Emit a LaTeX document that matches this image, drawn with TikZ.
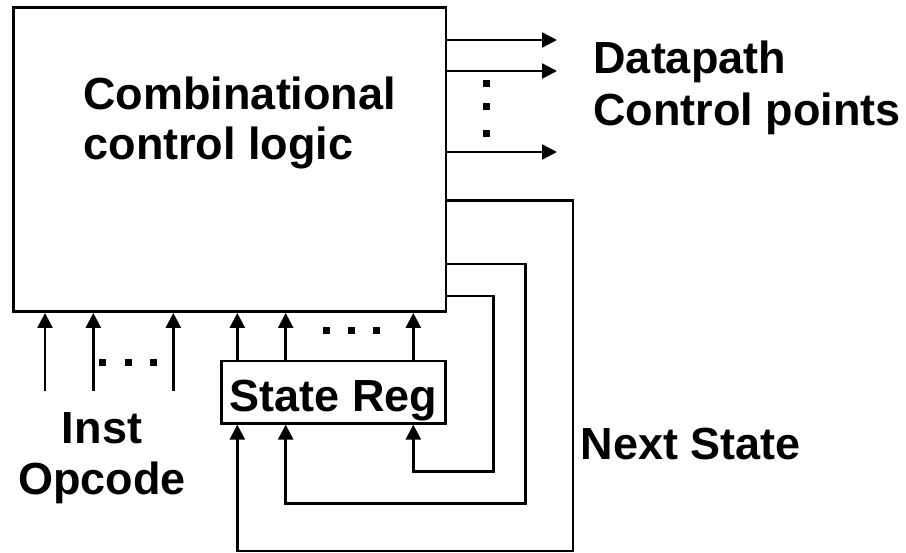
\documentclass[tikz,border=0pt]{standalone}
\usepackage{fontspec}
\setmainfont{Liberation Sans}
\usetikzlibrary{arrows.meta}
\begin{document}
\begin{tikzpicture}[x=1pt,y=-1pt,
  wire/.style={line width=2.5pt},
  arr/.style={wire,-{Triangle[length=15pt,width=15pt]}},
  blk/.style={draw,line width=2.5pt,inner sep=0pt,fill=white},
  lbl/.style={inner sep=0pt,font=\fontsize{45}{47}\selectfont\bfseries},
  dotsq/.style={fill=black}
]
\useasboundingbox (0,0) rectangle (906,553);

% combinational logic block and state register
\node[blk,minimum width=432.7pt,minimum height=304.4pt] (ccl) at (229.7,159.5) {};
\node[blk,lbl,minimum width=223.8pt,minimum height=62.3pt,text height=39pt,text depth=0pt] (sr) at (333.6,392.2) {State Reg};

% block title
\node[lbl,anchor=base west] (t1) at (83.3,110) {Combinational};
\node[lbl,anchor=base west] (t2) at (83.3,160) {control logic};

% datapath control outputs
\coordinate (o1) at (557,40);
\coordinate (o2) at (557,71);
\coordinate (o3) at (557,152);
\foreach \o in {o1,o2,o3}
  \draw[arr] (ccl.east |- \o) -- (\o);
\foreach \y in {84,107,134}
  \fill[dotsq] (482.5,\y-3.5) rectangle (489.5,\y+3.5);
\node[lbl,anchor=base west] (dp1) at (593.3,73.3) {Datapath};
\node[lbl,anchor=base west] (dp2) at (593.3,126) {Control points};

% opcode inputs
\coordinate (i1) at (45,390.7);
\coordinate (i2) at (93.3,390.7);
\coordinate (i3) at (173.3,390.7);
\foreach \i in {i1,i2,i3}
  \draw[arr] (\i) -- (\i |- ccl.south);
\foreach \x in {102.7,128.3,153.3}
  \fill[dotsq] (\x-3.5,358.8) rectangle (\x+3.5,365.8);
\node[lbl,anchor=base] (op1) at (102,443.3) {Inst};
\node[lbl,anchor=base] (op2) at (102,495) {Opcode};

% current state into the logic
\foreach \x in {237.3,285.7,413.3}
  \draw[arr] (sr.north -| \x,0) -- (ccl.south -| \x,0);
\foreach \x in {326.7,351.7,376.7}
  \fill[dotsq] (\x-3.5,327.5) rectangle (\x+3.5,334.5);

% next state feedback
\draw[arr] (ccl.east |- 0,200.7) -| (573,551) -| (sr.south -| 237.3,0);
\draw[arr] (ccl.east |- 0,264) -| (525.7,503.3) -| (sr.south -| 285.7,0);
\draw[arr] (ccl.east |- 0,296) -| (493.3,471.7) -| (sr.south -| 413.3,0);
\node[lbl,anchor=base west] (ns) at (580.7,459.3) {Next State};
\end{tikzpicture}
\end{document}
